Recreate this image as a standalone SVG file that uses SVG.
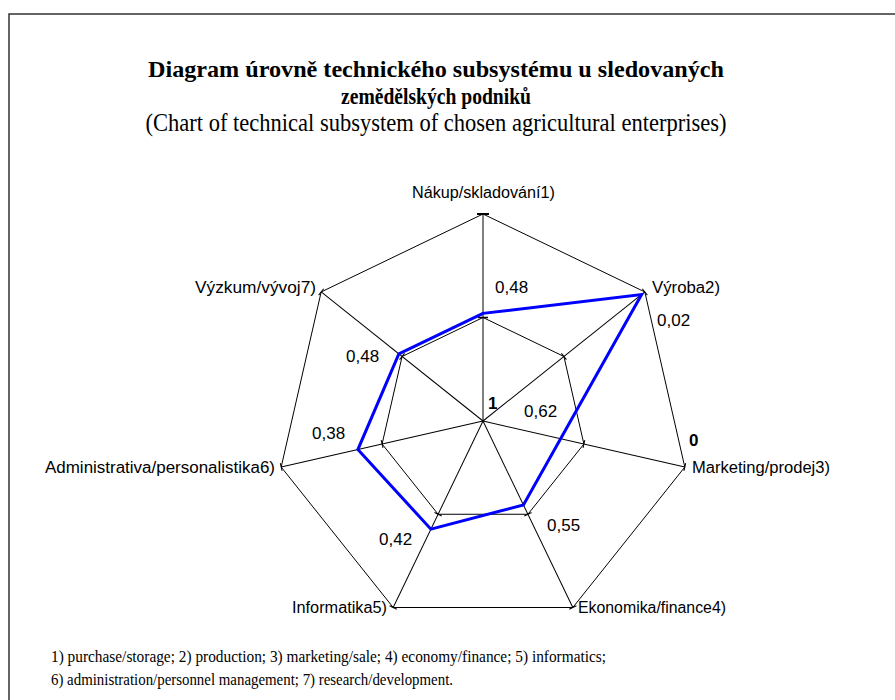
<svg xmlns="http://www.w3.org/2000/svg" width="895" height="700" viewBox="0 0 895 700">
<style>
.title{font-family:"Liberation Serif","Times New Roman",serif;font-weight:bold;font-size:24px;fill:#000;text-anchor:middle}
.sub{font-family:"Liberation Serif","Times New Roman",serif;font-size:25px;fill:#000;text-anchor:middle}
.foot{font-family:"Liberation Serif","Times New Roman",serif;font-size:16px;fill:#000}
.lbl{font-family:"Liberation Sans",Arial,sans-serif;font-size:16px;fill:#000}
.val{font-family:"Liberation Sans",Arial,sans-serif;font-size:17px;fill:#000}
.ax{font-family:"Liberation Sans",Arial,sans-serif;font-size:17px;font-weight:bold;fill:#000}
.grid{fill:none;stroke:#000;stroke-width:1}
.tick{stroke:#000;stroke-width:1}
.data{fill:none;stroke:#0000ff;stroke-width:3;stroke-linejoin:miter}
</style>
<defs>
<g id="spoke">
<line x1="0" y1="0" x2="0" y2="-207" class="tick"/>
<line x1="-4" y1="-207" x2="4" y2="-207" class="tick"/>
<line x1="-4" y1="-103.5" x2="4" y2="-103.5" class="tick"/>
</g>
</defs>
<rect x="0" y="0" width="895" height="700" fill="#fff"/>
<path d="M9,700 V14 H895" fill="none" stroke="#333" stroke-width="1.5"/>
<g id="title">
<text class="title" x="436" y="77" textLength="576" lengthAdjust="spacingAndGlyphs">Diagram úrovně technického subsystému u sledovaných</text>
<text class="title" x="436" y="104" textLength="190" lengthAdjust="spacingAndGlyphs">zemědělských podniků</text>
<text class="sub" x="436" y="131" textLength="581" lengthAdjust="spacingAndGlyphs">(Chart of technical subsystem of chosen agricultural enterprises)</text>
</g>
<g id="grid">
<polygon class="grid" points="483,214 644.84,291.94 684.81,467.06 572.81,607.5 393.19,607.5 281.19,467.06 321.16,291.94"/>
<polygon class="grid" points="483,317.5 563.92,356.47 583.9,444.03 527.91,514.25 438.09,514.25 382.1,444.03 402.08,356.47"/>
<g transform="translate(483,421)">
<use href="#spoke"/>
<use href="#spoke" transform="rotate(51.4286)"/>
<use href="#spoke" transform="rotate(102.8571)"/>
<use href="#spoke" transform="rotate(154.2857)"/>
<use href="#spoke" transform="rotate(205.7143)"/>
<use href="#spoke" transform="rotate(257.1429)"/>
<use href="#spoke" transform="rotate(308.5714)"/>
<line x1="-6" y1="-207" x2="6" y2="-207" stroke="#000" stroke-width="2"/>
<line x1="-5" y1="-103.5" x2="5" y2="-103.5" stroke="#000" stroke-width="1.5"/>
</g>
</g>
<g id="connectors">
<polyline class="data" points="398.85,353.89 483,313.36 641.6,294.52 523.42,504.93 430.91,529.17 357.88,449.56 398.85,353.89 483,313.36"/>
</g>
<g id="n1"><text class="lbl" x="412" y="198" textLength="143" lengthAdjust="spacingAndGlyphs">Nákup/skladování1)</text></g>
<g id="n2"><text class="lbl" x="652" y="293" textLength="68" lengthAdjust="spacingAndGlyphs">Výroba2)</text></g>
<g id="n3"><text class="lbl" x="692" y="473" textLength="138" lengthAdjust="spacingAndGlyphs">Marketing/prodej3)</text></g>
<g id="n4"><text class="lbl" x="578" y="613" textLength="148" lengthAdjust="spacingAndGlyphs">Ekonomika/finance4)</text></g>
<g id="n5"><text class="lbl" x="292" y="613" textLength="95" lengthAdjust="spacingAndGlyphs">Informatika5)</text></g>
<g id="n6"><text class="lbl" x="45" y="473" textLength="230" lengthAdjust="spacingAndGlyphs">Administrativa/personalistika6)</text></g>
<g id="n7"><text class="lbl" x="195" y="293" textLength="121" lengthAdjust="spacingAndGlyphs">Výzkum/vývoj7)</text></g>
<g id="values">
<text class="val" x="495" y="293">0,48</text>
<text class="val" x="657" y="326">0,02</text>
<text class="val" x="524" y="417">0,62</text>
<text class="val" x="547" y="531">0,55</text>
<text class="val" x="379" y="545">0,42</text>
<text class="val" x="312" y="439">0,38</text>
<text class="val" x="346" y="362">0,48</text>
<text class="ax" x="488" y="409">1</text>
<text class="ax" x="689" y="446">0</text>
</g>
<g id="footnotes">
<text class="foot" x="51" y="662" textLength="555" lengthAdjust="spacingAndGlyphs">1) purchase/storage; 2) production; 3) marketing/sale; 4) economy/finance; 5) informatics;</text>
<text class="foot" x="51" y="685" textLength="402" lengthAdjust="spacingAndGlyphs">6) administration/personnel management; 7) research/development.</text>
</g>
</svg>
